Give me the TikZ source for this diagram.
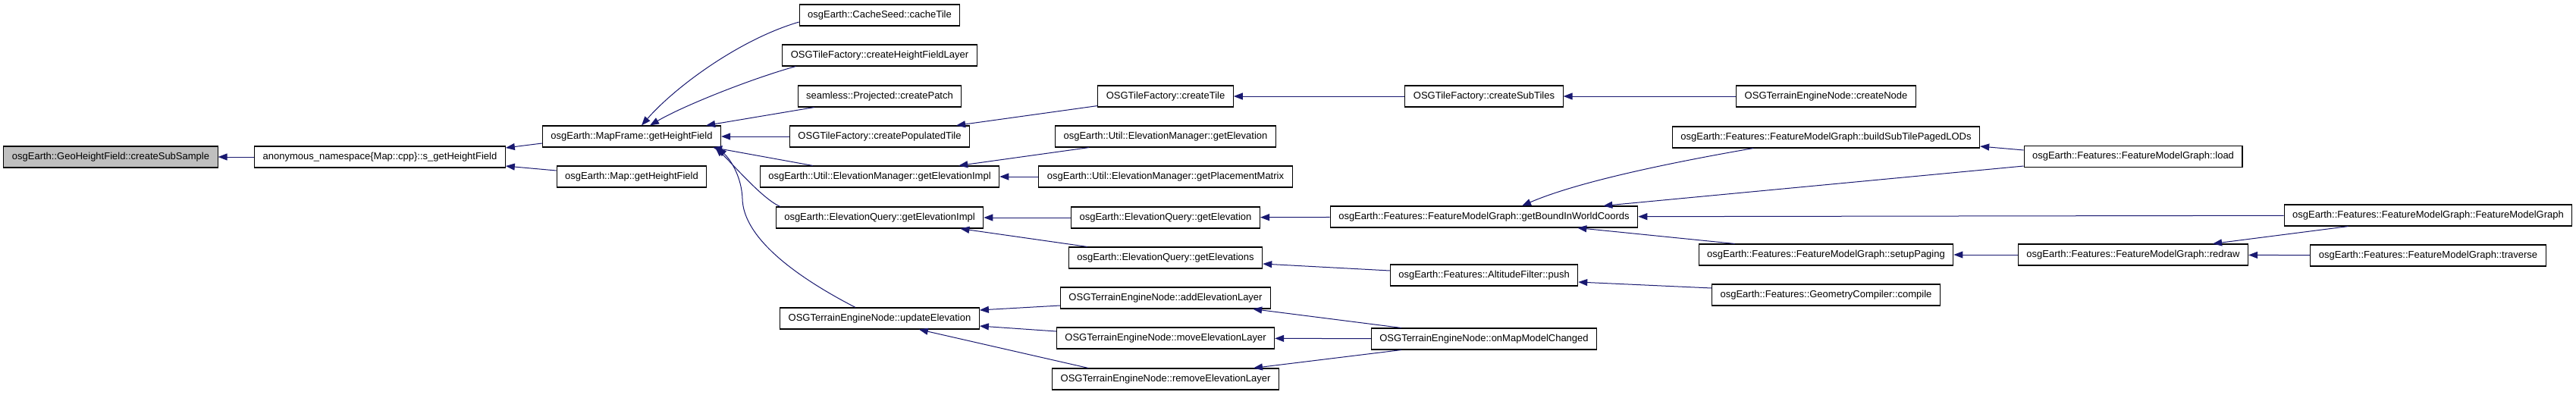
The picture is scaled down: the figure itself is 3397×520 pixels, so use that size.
\documentclass[tikz,border=0pt]{standalone}
\usepackage{fontspec}
\setmainfont{Liberation Sans}
\usetikzlibrary{arrows.meta,calc}
\definecolor{edgeblue}{HTML}{191970}
\definecolor{rootgrey}{HTML}{BFBFBF}
\tikzset{
  fn node/.style={rectangle,draw=black,line width=1.1pt,fill=white,minimum height=28pt,inner xsep=11pt,inner ysep=0pt,font=\fontsize{13}{15}\selectfont},
  root node/.style={fn node,fill=rootgrey},
  call edge/.style={edgeblue,line width=1pt,-{Triangle[length=12pt,width=9pt]}},
}

\begin{document}
\begin{tikzpicture}[x=1pt,y=-1pt]
  \useasboundingbox (0,0) rectangle (3397,520);
  % first columns
  \node[root node] (root) at (146,207) {osgEarth::GeoHeightField::createSubSample};
  \node[fn node] (sget) at (501,207) {anonymous\_namespace\{Map::cpp\}::s\_getHeightField};
  \node[fn node] (mapframe) at (833,180) {osgEarth::MapFrame::getHeightField};
  \node[fn node] (mapget) at (833,233) {osgEarth::Map::getHeightField};
  % callers of getHeightField
  \node[fn node] (cachetile) at (1160,20) {osgEarth::CacheSeed::cacheTile};
  \node[fn node] (hflayer) at (1160,73) {OSGTileFactory::createHeightFieldLayer};
  \node[fn node] (patch) at (1160,127) {seamless::Projected::createPatch};
  \node[fn node] (poptile) at (1160,180) {OSGTileFactory::createPopulatedTile};
  \node[fn node] (mgrimpl) at (1160,233) {osgEarth::Util::ElevationManager::getElevationImpl};
  \node[fn node] (qimpl) at (1160,287) {osgEarth::ElevationQuery::getElevationImpl};
  \node[fn node] (updelev) at (1160,420) {OSGTerrainEngineNode::updateElevation};
  % fourth column
  \node[fn node] (createtile) at (1537,127) {OSGTileFactory::createTile};
  \node[fn node] (mgrelev) at (1537,180) {osgEarth::Util::ElevationManager::getElevation};
  \node[fn node] (placement) at (1537,233) {osgEarth::Util::ElevationManager::getPlacementMatrix};
  \node[fn node] (qelev) at (1537,287) {osgEarth::ElevationQuery::getElevation};
  \node[fn node] (qelevs) at (1537,340) {osgEarth::ElevationQuery::getElevations};
  \node[fn node] (addlayer) at (1537,393) {OSGTerrainEngineNode::addElevationLayer};
  \node[fn node] (movelayer) at (1537,446) {OSGTerrainEngineNode::moveElevationLayer};
  \node[fn node] (remlayer) at (1537,500) {OSGTerrainEngineNode::removeElevationLayer};
  % fifth column
  \node[fn node] (subtiles) at (1957,127) {OSGTileFactory::createSubTiles};
  \node[fn node] (bound) at (1957,286) {osgEarth::Features::FeatureModelGraph::getBoundInWorldCoords};
  \node[fn node] (altpush) at (1957,363) {osgEarth::Features::AltitudeFilter::push};
  \node[fn node] (mapchanged) at (1957,447) {OSGTerrainEngineNode::onMapModelChanged};
  % sixth column
  \node[fn node] (createnode) at (2408,127) {OSGTerrainEngineNode::createNode};
  \node[fn node] (buildlods) at (2408,181) {osgEarth::Features::FeatureModelGraph::buildSubTilePagedLODs};
  \node[fn node] (paging) at (2408,336) {osgEarth::Features::FeatureModelGraph::setupPaging};
  \node[fn node] (gcompile) at (2408,389) {osgEarth::Features::GeometryCompiler::compile};
  % last columns
  \node[fn node] (load) at (2813,206.5) {osgEarth::Features::FeatureModelGraph::load};
  \node[fn node] (redraw) at (2813,336) {osgEarth::Features::FeatureModelGraph::redraw};
  \node[fn node] (fmgctor) at (3202,284) {osgEarth::Features::FeatureModelGraph::FeatureModelGraph};
  \node[fn node] (traverse) at (3202,337) {osgEarth::Features::FeatureModelGraph::traverse};

  % straight calls, row to row
  \foreach \a/\b in {sget/root,poptile/mapframe,placement/mgrimpl,subtiles/createtile,
                     createnode/subtiles,qelev/qimpl,bound/qelev,mapchanged/movelayer,
                     fmgctor/bound,redraw/paging,traverse/redraw}
    \draw[call edge] (\a) -- (\b);

  \draw[call edge] ($(mapframe.west)+(0,9)$) -- ($(sget.east)+(0,-12)$);
  \draw[call edge] ($(mapget.west)+(0,-8)$) -- ($(sget.east)+(0,12)$);
  \draw[call edge] ($(cachetile.west)+(0,9)$) .. controls (975,52) and (890,115) .. ($(mapframe.north)+(13,0)$);
  \draw[call edge] ($(hflayer.south west)+(18,0)$) .. controls (990,104) and (900,140) .. ($(mapframe.north)+(24,0)$);
  \draw[call edge] ($(patch.south west)+(22,0)$) -- ($(mapframe.north east)+(-20,0)$);
  \draw[call edge] ($(mgrimpl.north west)+(70,0)$) -- ($(mapframe.south east)+(-11,0)$);
  \draw[call edge] ($(qimpl.north west)+(6,0)$) .. controls (1005,262) and (965,215) .. ($(mapframe.south east)+(-8,0)$);
  \draw[call edge] ($(updelev.north)+(-32,0)$) .. controls (1040,360) and (980,310) .. (979,262)
    .. controls (978,235) and (965,212) .. ($(mapframe.south east)+(-5,0)$);

  \draw[call edge] ($(createtile.south west)+(0,-2)$) -- ($(poptile.north east)+(-18,0)$);
  \draw[call edge] ($(mgrelev.south west)+(45,0)$) -- ($(mgrimpl.north east)+(-54,0)$);
  \draw[call edge] ($(qelevs.north west)+(25,0)$) -- ($(qimpl.south east)+(-31,0)$);
  \draw[call edge] ($(altpush.west)+(0,-6)$) -- ($(qelevs.east)+(0,8)$);
  \draw[call edge] ($(addlayer.west)+(0,10)$) -- ($(updelev.east)+(0,-11)$);
  \draw[call edge] ($(movelayer.west)+(0,-9)$) -- ($(updelev.east)+(0,10)$);
  \draw[call edge] ($(remlayer.north west)+(48,0)$) -- ($(updelev.south east)+(-80,0)$);
  \draw[call edge] ($(mapchanged.north west)+(40,0)$) -- ($(addlayer.south east)+(-24,0)$);
  \draw[call edge] ($(mapchanged.south west)+(40,0)$) -- ($(remlayer.north east)+(-34,0)$);

  \draw[call edge] ($(buildlods.south west)+(107,0)$) .. controls (2200,215) and (2080,240) .. ($(bound.north)+(50,0)$);
  \draw[call edge] ($(load.west)+(0,-8.5)$) -- ($(buildlods.east)+(0,12)$);
  \draw[call edge] ($(load.west)+(0,12.5)$) -- ($(bound.north east)+(-46,0)$);
  \draw[call edge] ($(paging.north west)+(48,0)$) -- ($(bound.south east)+(-80,0)$);
  \draw[call edge] ($(fmgctor.south west)+(85,0)$) -- ($(redraw.north east)+(-47,0)$);
  \draw[call edge] ($(gcompile.west)+(0,-9)$) -- ($(altpush.east)+(0,9)$);
\end{tikzpicture}
\end{document}
